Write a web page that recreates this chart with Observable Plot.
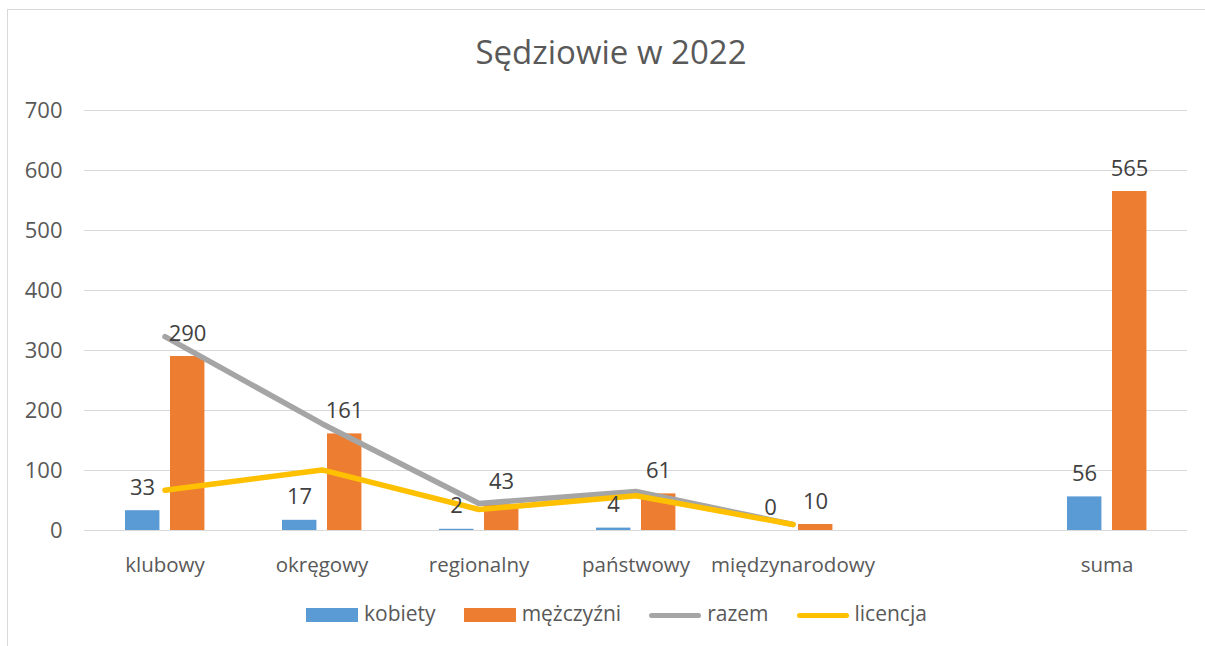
<!DOCTYPE html>
<html><head><meta charset="utf-8">
<script src="https://cdn.jsdelivr.net/npm/d3@7"></script>
<script src="https://cdn.jsdelivr.net/npm/@observablehq/plot@0.6"></script>
<style>
body{margin:0;background:#fff;font-family:"Open Sans",Lato,sans-serif;}
#wrap{position:relative;width:1205px;height:646px;overflow:hidden;background:#fff}
#frame{position:absolute;left:7px;top:9px;width:1220px;height:700px;border:1px solid #d9d9d9;box-sizing:border-box}
#title{position:absolute;top:32px;left:0;width:1222px;text-align:center;font-size:33px;color:#595959;line-height:40px}
#chart{position:absolute;left:0;top:0}
#legend{position:absolute;top:601px;left:306px;display:flex;align-items:center;gap:28px;font-size:21px;color:#595959;line-height:24px}
.item{display:flex;align-items:center}
.sw{width:52px;height:14px;margin-right:6px;transform:translateY(2px)}
.ln{width:52px;height:5px;border-radius:3px;margin-right:6px;transform:translateY(2px)}
</style></head>
<body>
<div id="wrap">
  <div id="frame"></div>
  <div id="chart"></div>
  <div id="title">Sędziowie w 2022</div>
  <div id="legend"></div>
</div>
<script>
const categories = ["klubowy","okręgowy","regionalny","państwowy","międzynarodowy"," ","suma"];
const kobiety    = [33, 17, 2, 4, 0, null, 56];
const mezczyzni  = [290, 161, 43, 61, 10, null, 565];
const razem      = [323, 178, 45, 65, 10, null, null];
const licencja   = [67, 101, 35, 58, 10, null, null];
const yTicks     = [0, 100, 200, 300, 400, 500, 600, 700];
const seriesNames  = ["kobiety","mężczyźni","razem","licencja"];
const seriesColors = ["#5B9BD5","#ED7D31","#A5A5A5","#FFC000"];

const rows = categories.map((c,i)=>({cat:c, kobiety:kobiety[i], mezczyzni:mezczyzni[i], razem:razem[i], licencja:licencja[i]}));
const barRows = rows.filter(d=>d.kobiety!=null);
const lineRows = rows.filter(d=>d.razem!=null);

const W = 1205, mL = 84, mR = 18;
const bw = (W - mL - mR) / categories.length;
const FS = 22;

const chart = Plot.plot({
  width: W, height: 600,
  marginTop: 110, marginBottom: 70, marginLeft: mL, marginRight: mR,
  style: {fontFamily: "'Open Sans', Lato, sans-serif", color: "#595959", background: "transparent", overflow: "visible"},
  x: {domain: categories, padding: 0, label: null},
  y: {domain: [0, 700], label: null},
  marks: [
    Plot.ruleY(yTicks, {stroke: "#d9d9d9", strokeWidth: 1.2}),
    Plot.barY(barRows, {x: "cat", y: "kobiety", fill: seriesColors[0], insetLeft: 39, insetRight: bw - 74}),
    Plot.barY(barRows, {x: "cat", y: "mezczyzni", fill: seriesColors[1], insetLeft: 84, insetRight: bw - 119}),
    Plot.line(lineRows, {x: "cat", y: "razem", stroke: seriesColors[2], strokeWidth: 5.5, strokeLinecap: "round", strokeLinejoin: "round"}),
    Plot.line(lineRows, {x: "cat", y: "licencja", stroke: seriesColors[3], strokeWidth: 5.5, strokeLinecap: "round", strokeLinejoin: "round"}),
    Plot.text(barRows, {x: "cat", y: "kobiety", text: d => String(d.kobiety), dx: -22.5, dy: -23, fontSize: FS, fill: "#404040"}),
    Plot.text(barRows, {x: "cat", y: "mezczyzni", text: d => String(d.mezczyzni), dx: 22.5, dy: -23, fontSize: FS, fill: "#404040"}),
    Plot.axisY({ticks: yTicks, tickSize: 0, tickPadding: 22, fontSize: FS, label: null}),
    Plot.axisX({tickSize: 0, tickPadding: 27, fontSize: 20.5, label: null})
  ]
});
document.getElementById("chart").appendChild(chart);

const leg = document.getElementById("legend");
seriesNames.forEach((n,i)=>{
  const it = document.createElement("div"); it.className = "item";
  const sw = document.createElement("div"); sw.className = i < 2 ? "sw" : "ln"; sw.style.background = seriesColors[i];
  const tx = document.createElement("span"); tx.textContent = n;
  it.appendChild(sw); it.appendChild(tx); leg.appendChild(it);
});
</script>
</body></html>
